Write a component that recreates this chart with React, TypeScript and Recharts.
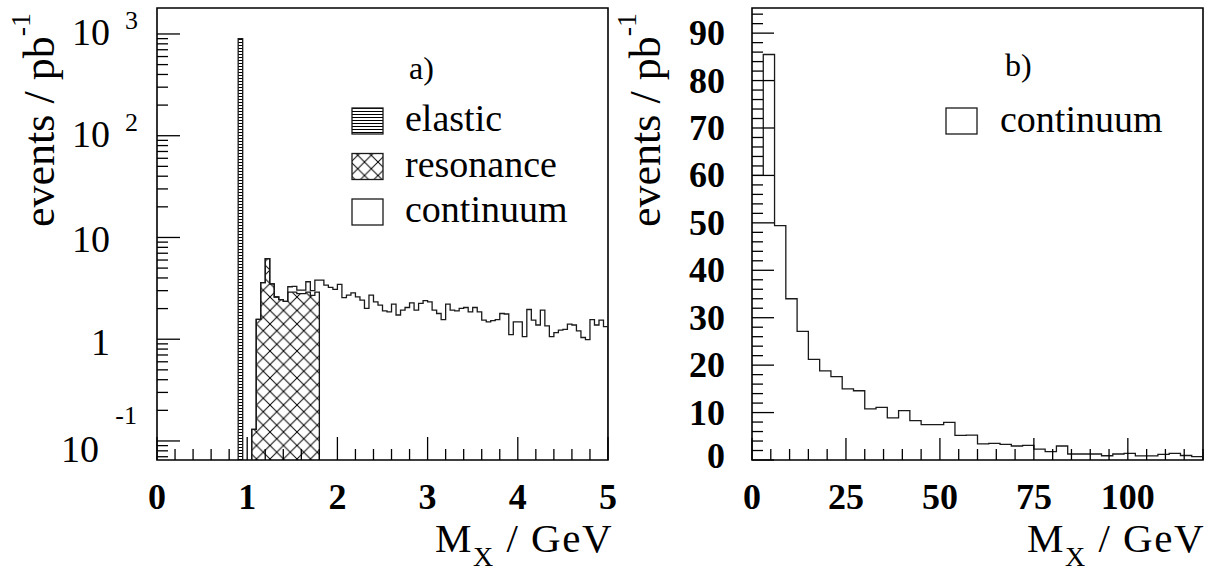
import React from "react";
import { ComposedChart, Area, Line, XAxis, YAxis, ReferenceArea, Legend, Label } from "recharts";

// panel a): log scale, 0.05 GeV bins
const binA = 0.05;
const elasticStart = 0.9;
const elastic = [900];
const resonanceStart = 1.05;
const resonance = [0.13, 1.57, 3.6, 6.2, 3.5, 2.6, 2.45, 2.35, 2.9, 2.9, 2.8, 2.8, 2.9, 2.7, 2.9];
const continuumStart = 1.45;
const continuum = [
  0.38, 0.4, 0.24, 0.24, 0.77, 0.3, 0.91,
  3.81, 3.4, 3.23, 3.09, 3.46, 2.56, 2.71, 2.86, 2.61, 2.42,
  2.01, 2.71, 2.33, 2.16, 1.9, 1.86, 2.21, 1.73, 1.93, 2.05,
  2.28, 1.93, 2.25, 2.39, 2.33, 1.93, 1.79, 1.56, 2.21, 1.93,
  1.9, 2.01, 2.05, 1.86, 2.05, 1.86, 1.54, 1.48, 1.52, 1.56,
  1.79, 1.77, 1.11, 1.48, 1.48, 1.06, 1.96, 1.54, 1.38, 1.93,
  1.35, 1.06, 1.16, 1.23, 1.25, 1.41, 1.38, 1.21, 1.04, 0.99,
  1.56, 1.38, 1.54, 1.33,
];

// panel b): linear scale, 3 GeV bins
const binB = 3;
const continuumB = [
  60, 85.5, 49.4, 34, 27.1, 21.2, 18.8, 17.6, 15, 14.6,
  10.8, 11.1, 8.9, 10.4, 8.3, 7.45, 7.45, 7.95, 5.2, 5.25,
  3.4, 3.5, 3.3, 2.95, 3.1, 2.3, 1.75, 2.95, 1.27, 1.27,
  1.27, 0.9, 1.27, 1.4, 0.85, 0.85, 1.2, 1.4, 0.95, 0.7,
];

const xTicksA = [0, 1, 2, 3, 4, 5];
const yTicksA = [0.1, 1, 10, 100, 1000];
const xTicksB = [0, 25, 50, 75, 100];
const yTicksB = [0, 10, 20, 30, 40, 50, 60, 70, 80, 90];

const Y_MIN_A = 0.065;
const Y_MAX_A = 1800;
const Y_MAX_B = 95.3;
const FONT = '"Liberation Serif", "Times New Roman", serif';
const INK = "#1a1a1a";

const r4 = (v: number) => Math.round(v * 1e4) / 1e4;

// histogram outline as step points (optionally closed down to the floor)
function stepRows(key: string, start: number, width: number, vals: number[], floor: number | null) {
  const rows: Record<string, number>[] = [];
  if (floor !== null) rows.push({ x: r4(start), [key]: floor });
  vals.forEach((v, i) => rows.push({ x: r4(start + i * width), [key]: v }));
  const end = r4(start + vals.length * width);
  rows.push({ x: end, [key]: vals[vals.length - 1] });
  if (floor !== null) rows.push({ x: end, [key]: floor });
  return rows;
}

const contOffset = Math.round((continuumStart - resonanceStart) / binA);
const totalA = Array.from(
  { length: Math.max(resonance.length, contOffset + continuum.length) },
  (_, i) => (resonance[i] ?? 0) + (continuum[i - contOffset] ?? 0)
);

const dataA = [
  ...stepRows("elastic", elasticStart, binA, elastic, Y_MIN_A),
  ...stepRows("resonance", resonanceStart, binA, resonance, Y_MIN_A),
  ...stepRows("total", resonanceStart, binA, totalA, Y_MIN_A),
];
const dataB = stepRows("cont", 0, binB, continuumB, null);

const minorXA = Array.from({ length: 26 }, (_, i) => r4(i * 0.2));
const logTicks: number[] = [];
for (let e = -2; e <= 3; e++) {
  for (let k = 1; k <= 9; k++) {
    const v = +(k * 10 ** e).toPrecision(6);
    if (v >= Y_MIN_A && v <= Y_MAX_A) logTicks.push(v);
  }
}
const minorXB = Array.from({ length: 25 }, (_, i) => i * 5);
const minorYB = Array.from({ length: 48 }, (_, i) => i * 2);

const isIn = (arr: number[], v: number) => arr.some((t) => Math.abs(t - v) < 1e-9);

const numStyle = { fontFamily: FONT, fontSize: 36, fontWeight: 700, fill: "#000" };

function XTickA(props: any) {
  const { x, y, payload } = props;
  const major = isIn(xTicksA, payload.value);
  return (
    <g>
      <line x1={x} x2={x} y1={y} y2={y - (major ? 23 : 11)} stroke="#000" strokeWidth={1.3} />
      {major && (
        <text x={x} y={y + 37} textAnchor="middle" dominantBaseline="central" style={numStyle}>
          {payload.value}
        </text>
      )}
    </g>
  );
}

function YTickA(props: any) {
  const { x, y, payload } = props;
  const v = payload.value;
  const major = isIn(yTicksA, v);
  const e = Math.round(Math.log10(v));
  const base = { fontFamily: FONT, fontSize: 38, fill: "#000" };
  const sup = { fontFamily: FONT, fontSize: 26, fill: "#000" };
  let label = null;
  if (major) {
    if (e >= 2) {
      label = (
        <g>
          <text x={x - 47} y={y - 2} textAnchor="end" dominantBaseline="central" style={base}>10</text>
          <text x={x - 32} y={y - 13} textAnchor="start" dominantBaseline="central" style={sup}>{e}</text>
        </g>
      );
    } else if (e === 1) {
      label = <text x={x - 47} y={y + 2} textAnchor="end" dominantBaseline="central" style={base}>10</text>;
    } else if (e === 0) {
      label = <text x={x - 47} y={y + 3} textAnchor="end" dominantBaseline="central" style={base}>1</text>;
    } else {
      label = (
        <g>
          <text x={x - 58} y={y + 8} textAnchor="end" dominantBaseline="central" style={base}>10</text>
          <text x={x - 20} y={y - 25} textAnchor="end" dominantBaseline="central" style={sup}>{e}</text>
        </g>
      );
    }
  }
  return (
    <g>
      <line x1={x} x2={x + (major ? 23 : 11)} y1={y} y2={y} stroke="#000" strokeWidth={1.3} />
      {label}
    </g>
  );
}

function XTickB(props: any) {
  const { x, y, payload } = props;
  const major = isIn(xTicksB, payload.value);
  return (
    <g>
      <line x1={x} x2={x} y1={y} y2={y - (major ? 22 : 11)} stroke="#000" strokeWidth={1.3} />
      {major && (
        <text x={x} y={y + 37} textAnchor="middle" dominantBaseline="central" style={numStyle}>
          {payload.value}
        </text>
      )}
    </g>
  );
}

function YTickB(props: any) {
  const { x, y, payload } = props;
  const major = isIn(yTicksB, payload.value);
  return (
    <g>
      <line x1={x} x2={x + (major ? 22 : 11)} y1={y} y2={y} stroke="#000" strokeWidth={1.3} />
      {major && (
        <text x={x - 27} y={payload.value === 0 ? y - 4 : y} textAnchor="end" dominantBaseline="central" style={numStyle}>
          {payload.value}
        </text>
      )}
    </g>
  );
}

const titleStyle = { fontFamily: FONT, fontSize: 44, fill: "#000" };

function YTitle(baseX: number) {
  return () => (
    <text transform={`translate(${baseX},13) rotate(-90)`} textAnchor="end" style={titleStyle}>
      events / pb<tspan dy={-24} fontSize={28}>-1</tspan>
    </text>
  );
}

function XTitle(endX: number) {
  return () => (
    <text x={endX} y={552} textAnchor="end" style={{ ...titleStyle, fontSize: 41, letterSpacing: 1.5 }}>
      M<tspan dy={14} fontSize={28}>X</tspan>
      <tspan dy={-14}>{"\u00a0/\u00a0GeV"}</tspan>
    </text>
  );
}

const legendText = { fontFamily: FONT, fontSize: 38, fill: "#000" };

function LegendA() {
  const rows = [
    { name: "elastic", fill: "url(#hstripe)" },
    { name: "resonance", fill: "url(#xhatch)" },
    { name: "continuum", fill: "#fff" },
  ];
  return (
    <svg width={620} height={240} style={{ overflow: "visible", display: "block" }}>
      <defs>
        <pattern id="hstripe" patternUnits="userSpaceOnUse" width={6} height={3}>
          <rect width={6} height={3} fill="#fff" />
          <line x1={0} x2={6} y1={0.5} y2={0.5} stroke="#000" strokeWidth={1} />
        </pattern>
        <pattern id="xhatch" patternUnits="userSpaceOnUse" width={13.5} height={13.5}>
          <rect width={13.5} height={13.5} fill="#fff" />
          <path d="M-1,-1 L14.5,14.5 M14.5,-1 L-1,14.5" stroke="#000" strokeWidth={1} />
        </pattern>
      </defs>
      <text x={409} y={68} dominantBaseline="central" style={{ ...legendText, fontSize: 32 }}>a)</text>
      {rows.map((r, i) => (
        <g key={r.name}>
          <rect x={352} y={108 + i * 45.5} width={31} height={26} fill={r.fill} stroke={INK} strokeWidth={1.3} />
          <text x={405} y={131 + i * 45.5} style={legendText}>{r.name}</text>
        </g>
      ))}
    </svg>
  );
}

function LegendB() {
  return (
    <svg width={615} height={240} style={{ overflow: "visible", display: "block" }}>
      <text x={405} y={65} dominantBaseline="central" style={{ ...legendText, fontSize: 32 }}>b)</text>
      <rect x={346} y={108} width={31} height={26} fill="#fff" stroke={INK} strokeWidth={1.3} />
      <text x={400} y={132} style={legendText}>continuum</text>
    </svg>
  );
}

export default function App() {
  return (
    <div style={{ position: "absolute", left: 0, top: 0, width: 1215, height: 572, background: "#fff" }}>
      <div style={{ position: "absolute", left: 0, top: 0 }}>
        <ComposedChart width={620} height={572} data={dataA} margin={{ top: 8, right: 12, bottom: 111, left: 156 }}>
          <XAxis
            dataKey="x"
            type="number"
            domain={[0, 5]}
            allowDataOverflow
            ticks={minorXA}
            interval={0}
            tick={XTickA}
            tickLine={false}
            axisLine={false}
            tickSize={0}
            tickMargin={0}
            height={1}
          >
            <Label content={XTitle(613)} />
          </XAxis>
          <YAxis
            type="number"
            scale="log"
            domain={[Y_MIN_A, Y_MAX_A]}
            allowDataOverflow
            ticks={logTicks}
            interval={0}
            tick={YTickA}
            tickLine={false}
            axisLine={false}
            tickSize={0}
            tickMargin={0}
            width={1}
          >
            <Label content={YTitle(54)} />
          </YAxis>
          <Area
            dataKey="elastic"
            type="stepAfter"
            baseValue={Y_MIN_A}
            fill="url(#hstripe)"
            fillOpacity={1}
            stroke={INK}
            strokeWidth={1.3}
            dot={false}
            activeDot={false}
            isAnimationActive={false}
          />
          <Area
            dataKey="resonance"
            type="stepAfter"
            baseValue={Y_MIN_A}
            fill="url(#xhatch)"
            fillOpacity={1}
            stroke={INK}
            strokeWidth={1.3}
            dot={false}
            activeDot={false}
            isAnimationActive={false}
          />
          <Line
            dataKey="total"
            type="stepAfter"
            stroke={INK}
            strokeWidth={1.3}
            dot={false}
            activeDot={false}
            isAnimationActive={false}
          />
          <ReferenceArea
            x1={0}
            x2={5}
            y1={Y_MIN_A}
            y2={Y_MAX_A}
            fill="none"
            fillOpacity={0}
            stroke="#000"
            strokeWidth={1.6}
            ifOverflow="visible"
          />
          <Legend
            layout="vertical"
            align="center"
            verticalAlign="middle"
            wrapperStyle={{ left: 0, top: 0, width: 620, pointerEvents: "none" }}
            content={LegendA}
          />
        </ComposedChart>
      </div>
      <div style={{ position: "absolute", left: 600, top: 0 }}>
        <ComposedChart width={615} height={572} data={dataB} margin={{ top: 8, right: 12, bottom: 111, left: 151 }}>
          <XAxis
            dataKey="x"
            type="number"
            domain={[0, 120]}
            allowDataOverflow
            ticks={minorXB}
            interval={0}
            tick={XTickB}
            tickLine={false}
            axisLine={false}
            tickSize={0}
            tickMargin={0}
            height={1}
          >
            <Label content={XTitle(605)} />
          </XAxis>
          <YAxis
            type="number"
            domain={[0, Y_MAX_B]}
            allowDataOverflow
            ticks={minorYB}
            interval={0}
            tick={YTickB}
            tickLine={false}
            axisLine={false}
            tickSize={0}
            tickMargin={0}
            width={1}
          >
            <Label content={YTitle(60)} />
          </YAxis>
          <Line
            dataKey="cont"
            type="stepAfter"
            stroke={INK}
            strokeWidth={1.3}
            dot={false}
            activeDot={false}
            isAnimationActive={false}
          />
          <ReferenceArea
            x1={0}
            x2={120}
            y1={0}
            y2={Y_MAX_B}
            fill="none"
            fillOpacity={0}
            stroke="#000"
            strokeWidth={1.6}
            ifOverflow="visible"
          />
          <Legend
            layout="vertical"
            align="center"
            verticalAlign="middle"
            wrapperStyle={{ left: 0, top: 0, width: 615, pointerEvents: "none" }}
            content={LegendB}
          />
        </ComposedChart>
      </div>
    </div>
  );
}
